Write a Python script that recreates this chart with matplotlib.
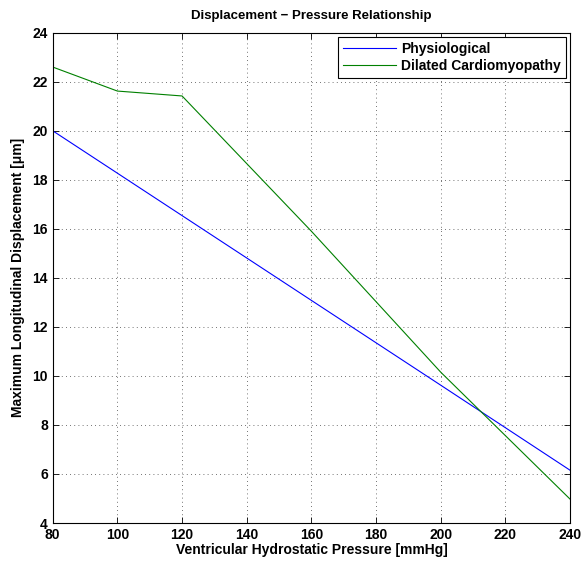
import matplotlib
matplotlib.use('Agg')
import matplotlib.pyplot as plt

plt.rcParams['font.family'] = ['Liberation Sans', 'DejaVu Sans']
plt.rcParams['font.weight'] = 'bold'

# ── 数据 ──────────────────────────────
pressure = [80, 100, 120, 160, 200, 240]
physiological = [20.0, 18.27, 16.54, 13.08, 9.62, 6.15]
dilated = [22.6, 21.62, 21.42, 15.9, 10.15, 4.97]

fig = plt.figure(figsize=(5.83, 5.68), dpi=100)
ax = fig.add_axes([0.0904, 0.0792, 0.8876, 0.8632])

ax.plot(pressure, physiological, color='#0000ff', linewidth=0.8, label='Physiological')
ax.plot(pressure, dilated, color='#008000', linewidth=0.8, label='Dilated Cardiomyopathy')

ax.set_xlim(80, 240)
ax.set_ylim(4, 24)
ax.set_xticks(range(80, 241, 20))
ax.set_yticks(range(4, 25, 2))
ax.tick_params(direction='in', top=True, right=True, labelsize=10, length=4, width=0.6)
for lbl in ax.get_xticklabels() + ax.get_yticklabels():
    lbl.set_fontweight('bold')
ax.grid(True, linestyle=(0, (1, 4)), color='#444444', linewidth=0.6)
for s in ax.spines.values():
    s.set_linewidth(0.8)

ax.set_xlabel('Ventricular Hydrostatic Pressure [mmHg]', fontsize=10, fontweight='bold', labelpad=1)
ax.set_ylabel('Maximum Longitudinal Displacement [μm]', fontsize=10, fontweight='bold', labelpad=5)
ax.set_title('Displacement \u2212 Pressure Relationship', fontsize=9.5, fontweight='bold', pad=10)

leg = ax.legend(loc='upper right', fontsize=10, fancybox=False, framealpha=1,
                edgecolor='black', borderaxespad=0.3, handlelength=3.8,
                borderpad=0.35, labelspacing=0.25, handletextpad=0.4)
leg.get_frame().set_linewidth(0.8)
for t in leg.get_texts():
    t.set_fontweight('bold')

fig.savefig('out.png', dpi=100)
